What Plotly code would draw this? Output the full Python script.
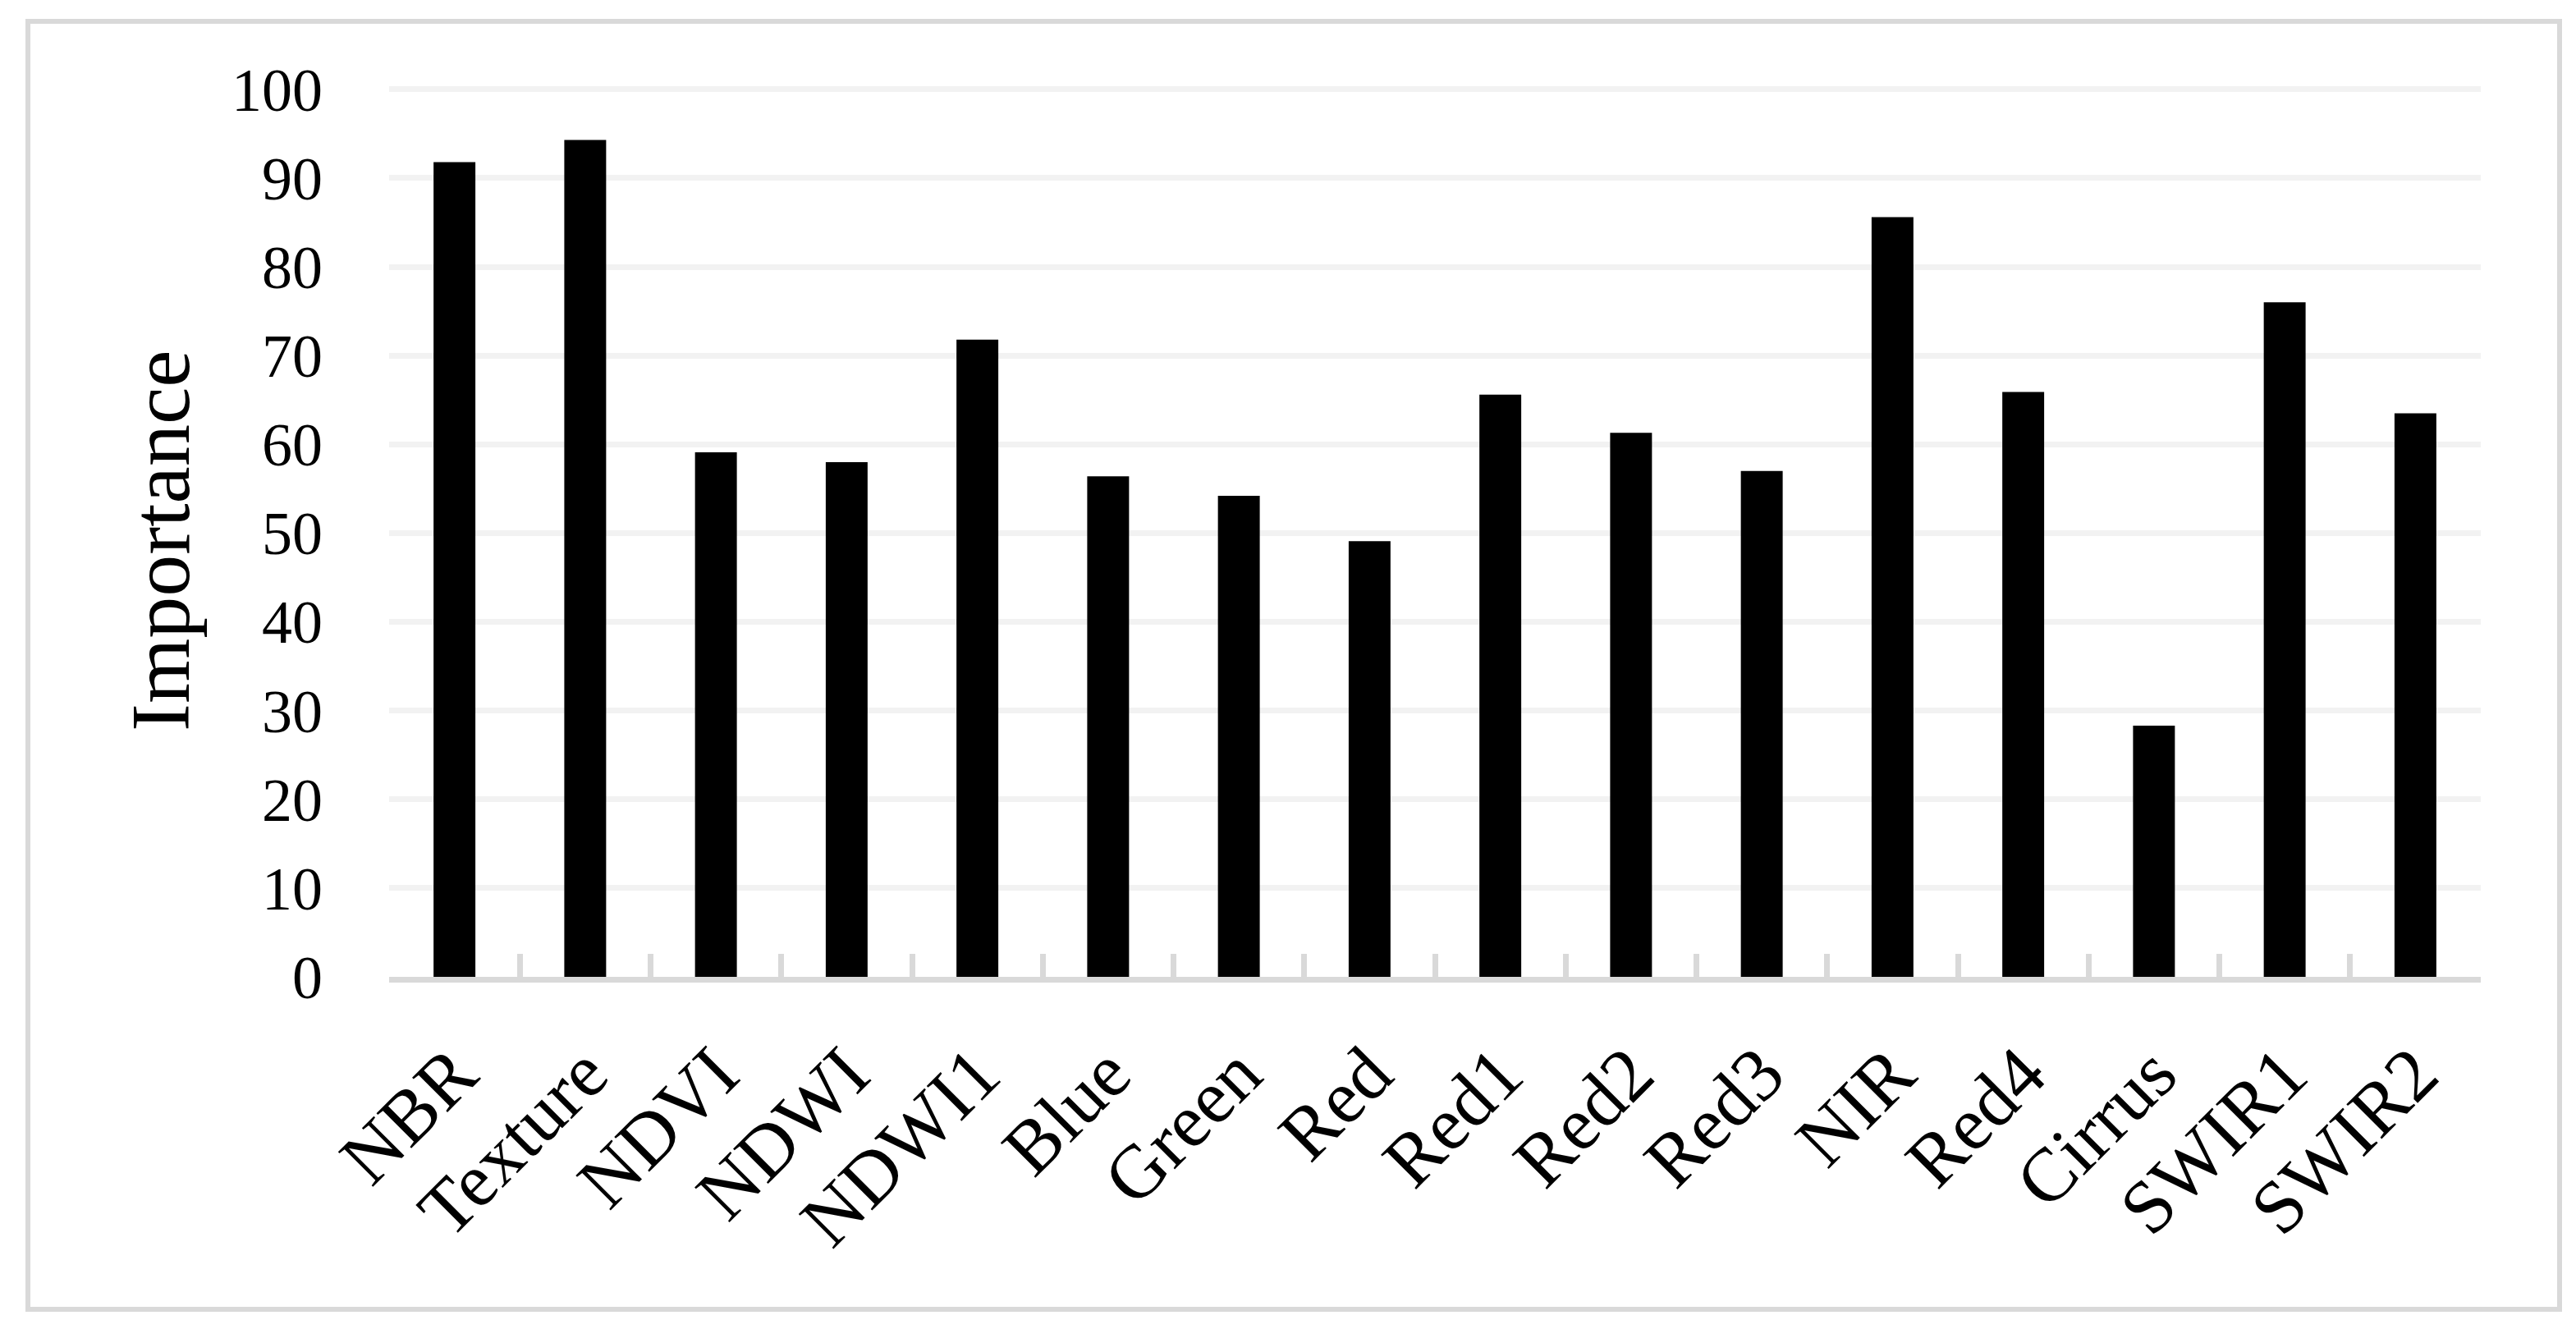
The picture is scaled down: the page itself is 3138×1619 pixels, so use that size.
import plotly.graph_objects as go

categories = ["NBR", "Texture", "NDVI", "NDWI", "NDWI1", "Blue", "Green", "Red",
              "Red1", "Red2", "Red3", "NIR", "Red4", "Cirrus", "SWIR1", "SWIR2"]
importance = [91.8, 94.3, 59.1, 58.0, 71.8, 56.4, 54.2, 49.1,
              65.6, 61.3, 57.0, 85.6, 65.9, 28.3, 76.0, 63.5]
y_ticks = [0, 10, 20, 30, 40, 50, 60, 70, 80, 90, 100]
y_title = "Importance"

W, H = 3138, 1619
ML, MR, MT, MB = 466, 124, 90, 437
PW = W - ML - MR
PH = H - MT - MB

FONT = "Palatino Linotype, Book Antiqua, Palatino, Liberation Serif, serif"

fig = go.Figure()
fig.add_trace(go.Bar(x=categories, y=importance, marker=dict(color="black", line=dict(width=0)),
                     showlegend=False))

fig.update_layout(
    width=W, height=H,
    margin=dict(l=ML, r=MR, t=MT, b=MB, autoexpand=False),
    paper_bgcolor="white", plot_bgcolor="white",
    bargap=0.68,
    font=dict(family=FONT, color="black"),
    xaxis=dict(
        type="category",
        showline=True, linewidth=7, linecolor="#d9d9d9",
        ticks="inside", tickson="boundaries", ticklen=28, tickwidth=7, tickcolor="#d9d9d9",
        tickangle=-45, tickfont=dict(size=92, family=FONT, color="black"),
        ticklabelstandoff=20,
        showgrid=False, zeroline=False,
    ),
    yaxis=dict(
        range=[0, 101], tickvals=y_ticks, ticktext=[str(v) for v in y_ticks],
        showline=False, zeroline=False, ticks="",
        showgrid=True, gridcolor="#f2f2f2", gridwidth=7,
        tickfont=dict(size=74, family=FONT, color="black"),
        ticklabelstandoff=80,
    ),
    annotations=[dict(
        text=y_title, textangle=-90, showarrow=False,
        xref="paper", yref="paper",
        x=(187 - ML) / PW, y=(MT + PH - 651) / PH,
        xanchor="center", yanchor="middle",
        font=dict(size=102, family=FONT, color="black"),
    )],
    shapes=[dict(
        type="rect", xref="paper", yref="paper",
        x0=(26 - ML) / PW, x1=(3110 - ML) / PW,
        y0=(MT + PH - 1587) / PH, y1=(MT + PH - 18) / PH,
        line=dict(color="#d9d9d9", width=6), fillcolor="rgba(0,0,0,0)", layer="below",
    )],
)

fig.write_html("out.html")
